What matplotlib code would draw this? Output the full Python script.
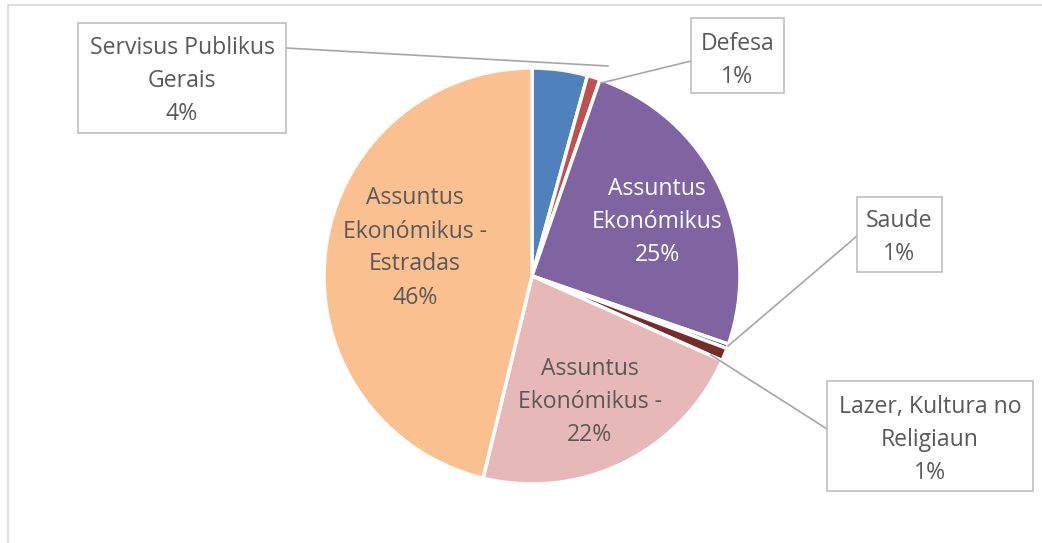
import matplotlib
matplotlib.use("Agg")
import matplotlib.pyplot as plt
from matplotlib.patches import Rectangle

categories = ["Servisus Publikus\nGerais", "Defesa", "Assuntus\nEkonómikus",
              "Saude", "Lazer, Kultura no\nReligiaun", "Assuntus\nEkonómikus -",
              "Assuntus\nEkonómikus -\nEstradas"]
values = [4.3, 1.0, 25.0, 0.35, 1.0, 22.1, 46.2]
pct_labels = ["4%", "1%", "25%", "1%", "1%", "22%", "46%"]
colors = ["#4F81BD", "#C0504D", "#8064A2", "#1F497D", "#772C2A", "#E6B9B8", "#FAC090"]

W, H = 1042, 543
fig = plt.figure(figsize=(W / 100, H / 100), dpi=100)
ax = fig.add_axes([0, 0, 1, 1])

def Y(y):
    return H - y

cx, cy, r = 532, Y(276), 208
ax.pie(values, colors=colors, startangle=90, counterclock=False,
       center=(cx, cy), radius=r, frame=True,
       wedgeprops=dict(edgecolor="white", linewidth=2.5))
ax.set_xlim(0, W)
ax.set_ylim(0, H)
ax.axis("off")

# chart border (partly cropped)
ax.plot([8, 8, W + 5], [-5, Y(5), Y(5)], color="#D9D9D9", lw=1.2, clip_on=False)

font = "Open Sans"
fs = 16.6
ls = 1.5
txt = "#595959"

# inside labels (visual centre + 2 px compensation)
inside = {2: (657, 222, "white"), 5: (590, 402, txt), 6: (415, 248, txt)}
for i, (x, y, c) in inside.items():
    ax.text(x, Y(y), categories[i] + "\n" + pct_labels[i], ha="center", va="center",
            fontsize=fs, color=c, family=font, linespacing=ls)

# callout boxes: (index, x0, y0, x1, y1, text centre y, leader start, leader end)
callouts = [
    (0, 78, 23, 286, 133, 79, (286, 48), (608, 66)),
    (1, 691, 18, 784, 93, 58.5, (691, 61), (601, 83)),
    (3, 857, 197, 942, 272, 235.5, (857, 236), (728, 346)),
    (4, 827, 381, 1033, 491, 438, (827, 429), (711, 355)),
]
for i, x0, y0, x1, y1, ty, p0, p1 in callouts:
    ax.add_patch(Rectangle((x0, Y(y1)), x1 - x0, y1 - y0, fill=True,
                           facecolor="white", edgecolor="#BFBFBF", lw=1.2, zorder=3))
    ax.plot([p0[0], p1[0]], [Y(p0[1]), Y(p1[1])], color="#A6A6A6", lw=1.2, zorder=2)
    ax.text((x0 + x1) / 2, Y(ty + 2), categories[i] + "\n" + pct_labels[i],
            ha="center", va="center", fontsize=fs, color=txt, family=font,
            linespacing=ls, zorder=4)

fig.savefig("out.png", dpi=100)
